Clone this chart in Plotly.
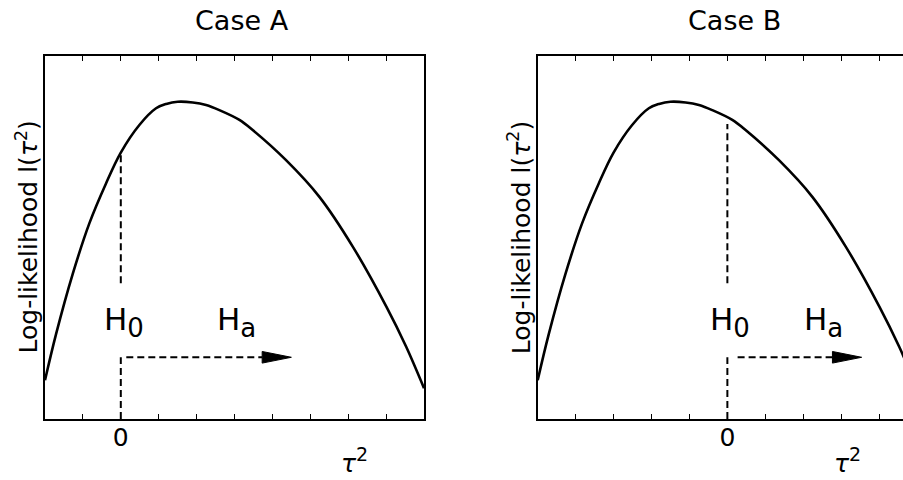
import plotly.graph_objects as go

# ---------------- data ----------------
# log-likelihood curve, Case A (tau^2 axis from -2 to 8)
tau2_A = [-2.0, -1.71, -1.27, -0.83, -0.39, 0.0, 0.49, 0.93, 1.20, 1.50, 1.90,
          2.25, 2.60, 3.13, 3.48, 4.36, 5.24, 6.12, 7.01, 7.53, 8.0]
# same curve, Case B (peak lies left of zero)
tau2_B = [-5.0, -4.71, -4.27, -3.83, -3.39, -3.0, -2.51, -2.07, -1.80, -1.50, -1.10,
          -0.75, -0.40, 0.13, 0.48, 1.36, 2.24, 3.12, 4.01, 4.53, 5.0]
loglik = [0.107, 0.233, 0.399, 0.539, 0.649, 0.734, 0.810, 0.856, 0.868, 0.874, 0.872,
          0.865, 0.851, 0.824, 0.796, 0.713, 0.612, 0.475, 0.309, 0.199, 0.085]

x_range_A = [-2, 8]
x_range_B = [-5, 4.63]
tick_vals = [0]
tick_text = ["0"]
minor_step = 1

# H0 marker line (upper part ends at the curve), arrow toward Ha
h0_top_A = 0.734
h0_top_B = 0.813
h0_gap_bottom = 0.374      # lower end of upper dashed segment
arrow_y = 0.170
arrow_A = [0.145, 4.50]    # start, tip
arrow_B = [0.27, 3.54]
head_len = 0.77            # in tau^2 units
head_half = 0.016          # in log-lik units

labels_A = {"H0": (0.09, 0.268), "Ha": (3.06, 0.268)}
labels_B = {"H0": (0.06, 0.268), "Ha": (2.54, 0.268)}

titles = ["Case A", "Case B"]
ylabel = "Log-likelihood l(<i>τ</i><sup>2</sup>)"
xlabel = "<i>τ</i><sup><span style='font-size:19px'>2</span></sup>"

FONT = "DejaVu Sans"
W, H = 903, 480

fig = go.Figure()

def add_panel(xa, ya, tau, top, arrow, labs):
    # curve
    fig.add_trace(go.Scatter(x=tau, y=loglik, mode="lines", xaxis=xa, yaxis=ya,
                             line=dict(color="black", width=2.6, shape="spline", smoothing=1.0),
                             hoverinfo="skip", showlegend=False))
    dash = "7px,4px"
    # upper dashed vertical
    fig.add_trace(go.Scatter(x=[0, 0], y=[h0_gap_bottom, top], mode="lines", xaxis=xa, yaxis=ya,
                             line=dict(color="black", width=2, dash=dash),
                             hoverinfo="skip", showlegend=False))
    # lower dashed vertical
    fig.add_trace(go.Scatter(x=[0, 0], y=[0, arrow_y], mode="lines", xaxis=xa, yaxis=ya,
                             line=dict(color="black", width=2, dash=dash),
                             hoverinfo="skip", showlegend=False))
    # dashed horizontal arrow shaft
    fig.add_trace(go.Scatter(x=[arrow[0], arrow[1] - head_len], y=[arrow_y, arrow_y], mode="lines",
                             xaxis=xa, yaxis=ya,
                             line=dict(color="black", width=2, dash=dash),
                             hoverinfo="skip", showlegend=False))
    # arrow head
    fig.add_trace(go.Scatter(x=[arrow[1] - head_len, arrow[1], arrow[1] - head_len, arrow[1] - head_len],
                             y=[arrow_y + head_half, arrow_y, arrow_y - head_half, arrow_y + head_half],
                             mode="lines", fill="toself", fillcolor="black", xaxis=xa, yaxis=ya,
                             line=dict(color="black", width=1),
                             hoverinfo="skip", showlegend=False))
    # H labels
    for key, (lx, ly) in labs.items():
        sub = key[1]
        fig.add_annotation(x=lx, y=ly, xref=xa, yref=ya, showarrow=False,
                           text=f"H<sub><span style='font-size:26px'>{sub}</span></sub>",
                           xanchor="center", yanchor="middle",
                           font=dict(family=FONT, size=31, color="black"))

add_panel("x", "y", tau2_A, h0_top_A, arrow_A, labels_A)
add_panel("x2", "y2", tau2_B, h0_top_B, arrow_B, labels_B)

ydom = [1 - 419 / H, 1 - 56 / H]
xcommon = dict(showline=True, linewidth=2, linecolor="black", mirror="ticks",
               ticks="inside", ticklen=5, tickwidth=1, tickcolor="black",
               tickvals=tick_vals, ticktext=tick_text,
               minor=dict(dtick=minor_step, tick0=0, ticks="inside", ticklen=5, tickwidth=1,
                          tickcolor="black", showgrid=False),
               showgrid=False, zeroline=False, ticklabelstandoff=-5,
               tickfont=dict(family=FONT, size=25, color="black"))
ycommon = dict(showline=True, linewidth=2, linecolor="black", range=[0, 1],
               showticklabels=False, ticks="", showgrid=False, zeroline=False, domain=ydom)

fig.update_layout(
    width=W, height=H, margin=dict(l=0, r=0, t=0, b=0),
    paper_bgcolor="white", plot_bgcolor="white",
    xaxis=dict(domain=[45 / W, 424 / W], range=x_range_A, anchor="y", **xcommon),
    yaxis=dict(anchor="x", mirror=True, **ycommon),
    xaxis2=dict(domain=[537.7 / W, 1.0], range=x_range_B, anchor="y2", **xcommon),
    yaxis2=dict(anchor="x2", mirror=False, **ycommon),
)

# panel titles
for t, cx in zip(titles, [242, 734]):
    fig.add_annotation(x=cx / W, y=1 - 20.5 / H, xref="paper", yref="paper", showarrow=False,
                       text=t.replace(" ", "\u00a0"), xanchor="center", yanchor="middle",
                       font=dict(family=FONT, size=27, color="black"))

# y-axis labels
for cx in [27, 519.7]:
    fig.add_annotation(x=cx / W, y=1 - 237.5 / H, xref="paper", yref="paper", showarrow=False,
                       text=ylabel, textangle=-90, xanchor="center", yanchor="middle",
                       font=dict(family=FONT, size=25, color="black"))

# tau^2 axis labels
for cx in [354, 847]:
    fig.add_annotation(x=cx / W, y=0, xref="paper", yref="paper", showarrow=False,
                       text=xlabel, xanchor="center", yanchor="bottom",
                       font=dict(family=FONT, size=25, color="black"))

fig.write_html("out.html", config={"displayModeBar": False},
               post_script="document.body.style.margin='0px';")
